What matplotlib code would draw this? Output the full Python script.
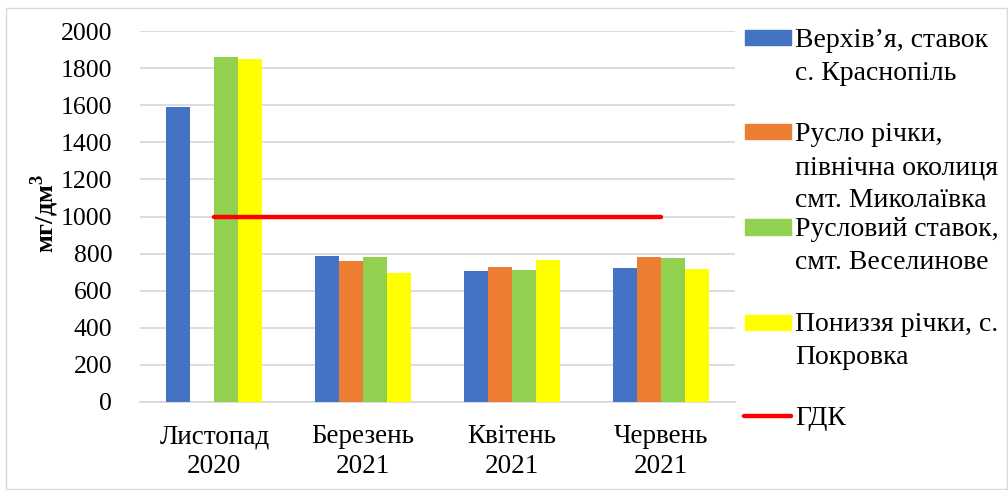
import matplotlib
matplotlib.use("Agg")
import matplotlib.pyplot as plt
from matplotlib.patches import Rectangle
from matplotlib.lines import Line2D
import numpy as np

plt.rcParams['font.family'] = ['Liberation Serif', 'DejaVu Serif']
plt.rcParams['mathtext.fontset'] = 'custom'
plt.rcParams['mathtext.rm'] = 'Liberation Serif'
plt.rcParams['mathtext.bf'] = 'Liberation Serif:bold'

categories = ["Листопад\n2020", "Березень\n2021", "Квітень\n2021", "Червень\n2021"]
series_names = [
    ["Верхів’я, ставок", "с. Краснопіль"],
    ["Русло річки,", "північна околиця", "смт. Миколаївка"],
    ["Русловий ставок,", "смт. Веселинове"],
    ["Пониззя річки, с.", "Покровка"],
]
upper = [1590, 786, 707, 720]
riverbed = [np.nan, 761, 730, 784]
pond = [1860, 782, 713, 777]
lower = [1850, 693, 763, 718]
gdk_label = "ГДК"
gdk = [1000, 1000, 1000, 1000]
yticks = [0, 200, 400, 600, 800, 1000, 1200, 1400, 1600, 1800, 2000]

colors = ["#4472C4", "#ED7D31", "#92D050", "#FFFF00"]
red = "#FF0000"

W, H = 1008, 490
fig = plt.figure(figsize=(W / 100, H / 100), dpi=100)


def fx(px):
    return px / W


def fy(py):
    return 1 - py / H


ax = fig.add_axes([fx(140), fy(402), fx(735) - fx(140), fy(31) - fy(402)])

x = np.arange(len(categories))
bw = 0.161
for i, vals in enumerate([upper, riverbed, pond, lower]):
    ax.bar(x + (i - 1.5) * bw, vals, width=bw, color=colors[i], zorder=3)

ax.plot(x, gdk, color=red, lw=3.2, zorder=4, solid_capstyle='round')

ax.set_xlim(-0.5, 3.5)
ax.set_ylim(0, 2000)
ax.set_yticks(yticks)
ax.set_yticklabels([str(v) for v in yticks], fontsize=18.5)
ax.set_xticks(x)
ax.set_xticklabels(categories, fontsize=19.5, linespacing=1.25)
ax.tick_params(axis='both', length=0)
ax.tick_params(axis='y', pad=20)
ax.tick_params(axis='x', pad=16)
ax.grid(axis='y', color="#d9d9d9", lw=1.3, zorder=0)
for s in ['top', 'right', 'left']:
    ax.spines[s].set_visible(False)
ax.spines['bottom'].set_color("#d9d9d9")
ax.spines['bottom'].set_linewidth(1.3)

fig.text(fx(45), fy(213), r"мг/дм$^{\mathbf{3}}$", rotation=90, ha='center', va='center',
         fontsize=19, fontweight='bold')

# legend drawn entry by entry
handle_y = [38, 132, 227, 322]
for i, (lines, c) in enumerate(zip(series_names, colors)):
    hy = handle_y[i]
    fig.add_artist(Rectangle((fx(745), fy(hy + 7.5)), fx(791) - fx(745), (15) / H,
                             transform=fig.transFigure, color=c))
    for k, t in enumerate(lines):
        fig.text(fx(795), fy(hy + 9 + 33 * k), t, fontsize=20, va='baseline', ha='left')
gy = 416
fig.add_artist(Line2D([fx(744), fx(791)], [fy(gy), fy(gy)], transform=fig.transFigure,
                      color=red, lw=3.2, solid_capstyle='round'))
fig.text(fx(795), fy(gy + 9), gdk_label, fontsize=20, va='baseline', ha='left')

fig.add_artist(Rectangle((fx(6), fy(489)), fx(1007) - fx(6), (489 - 8) / H,
                         transform=fig.transFigure, fill=False, edgecolor="#d9d9d9", lw=1))

fig.savefig("out.png", dpi=100)
